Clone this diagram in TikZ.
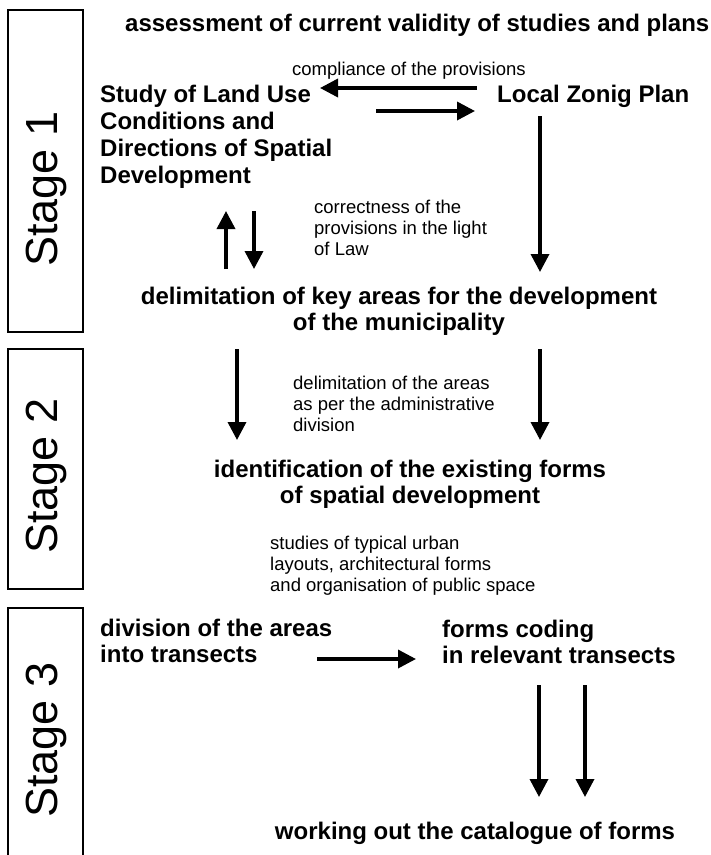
\documentclass[tikz,border=0pt]{standalone}
\usepackage{fontspec}
\setmainfont{Liberation Sans}
\usetikzlibrary{arrows.meta}
\begin{document}
\begin{tikzpicture}[x=1pt,y=-1pt,
  big/.style={font=\fontsize{24}{26}\selectfont\bfseries, inner sep=0pt},
  small/.style={font=\fontsize{18.5}{21}\selectfont, inner sep=0pt, align=left},
  stagebox/.style={draw, line width=1.5pt},
  stagelbl/.style={font=\fontsize{45}{50}\selectfont, rotate=90, inner sep=0pt},
  arr/.style={line width=3.5pt, -{Triangle[width=18pt,length=18pt]}}]
\useasboundingbox (0,0) rectangle (711,855);
% stage boxes
\draw[stagebox] (8,10) rectangle (83,332);
\draw[stagebox] (8,349) rectangle (83,589);
\draw[stagebox] (8,860) -- (8,608) -- (83,608) -- (83,860);
\node[stagelbl] (st1) at (46,189) {Stage 1};
\node[stagelbl] (st2) at (46,476) {Stage 2};
\node[stagelbl] (st3) at (46,740) {Stage 3};
% texts (multi-line nodes: base = baseline of last line)
\node[big, anchor=base west] (title) at (125,31) {assessment of current validity of studies and plans};
\node[small, anchor=base west] (comp) at (292,75) {compliance of the provisions};
\node[big, anchor=base west, align=left, font=\fontsize{24}{27}\selectfont\bfseries] (study) at (100,183) {Study of Land Use\\Conditions and\\Directions of Spatial\\Development};
\node[big, anchor=base west] (lzp) at (497,102) {Local Zonig Plan};
\node[small, anchor=base west] (corr) at (314,255) {correctness of the\\provisions in the light\\of Law};
\node[big, align=center, anchor=base] (delim) at (399,330) {delimitation of key areas for the development\\of the municipality};
\node[small, anchor=base west] (dela) at (293,431) {delimitation of the areas\\as per the administrative\\division};
\node[big, align=center, anchor=base] (ident) at (410,503) {identification of the existing forms\\of spatial development};
\node[small, anchor=base west] (studies) at (270,591) {studies of typical urban\\layouts, architectural forms\\and organisation of public space};
\node[big, anchor=base west, align=left] (divi) at (100,662) {division of the areas\\into transects};
\node[big, anchor=base west, align=left] (forms) at (442,663) {forms coding\\in relevant transects};
\node[big, anchor=base] (work) at (475,839) {working out the catalogue of forms};
% arrow end points
\coordinate (a1s) at (477,88);  \coordinate (a1e) at (320,88);
\coordinate (a2s) at (376,111); \coordinate (a2e) at (475,111);
\coordinate (a3s) at (540,116); \coordinate (a3e) at (540,272);
\coordinate (a4s) at (226,269); \coordinate (a4e) at (226,211);
\coordinate (a5s) at (254,211); \coordinate (a5e) at (254,269);
\coordinate (a6s) at (237,349); \coordinate (a6e) at (237,440);
\coordinate (a7s) at (540,349); \coordinate (a7e) at (540,440);
\coordinate (a8s) at (317,659); \coordinate (a8e) at (416,659);
\coordinate (a9s) at (539,685); \coordinate (a9e) at (539,797);
\coordinate (a10s) at (585,685); \coordinate (a10e) at (585,797);
\draw[arr] (a1s) -- (a1e);
\draw[arr] (a2s) -- (a2e);
\draw[arr] (a3s) -- (a3e);
\draw[arr] (a4s) -- (a4e);
\draw[arr] (a5s) -- (a5e);
\draw[arr] (a6s) -- (a6e);
\draw[arr] (a7s) -- (a7e);
\draw[arr] (a8s) -- (a8e);
\draw[arr] (a9s) -- (a9e);
\draw[arr] (a10s) -- (a10e);
\end{tikzpicture}
\end{document}
